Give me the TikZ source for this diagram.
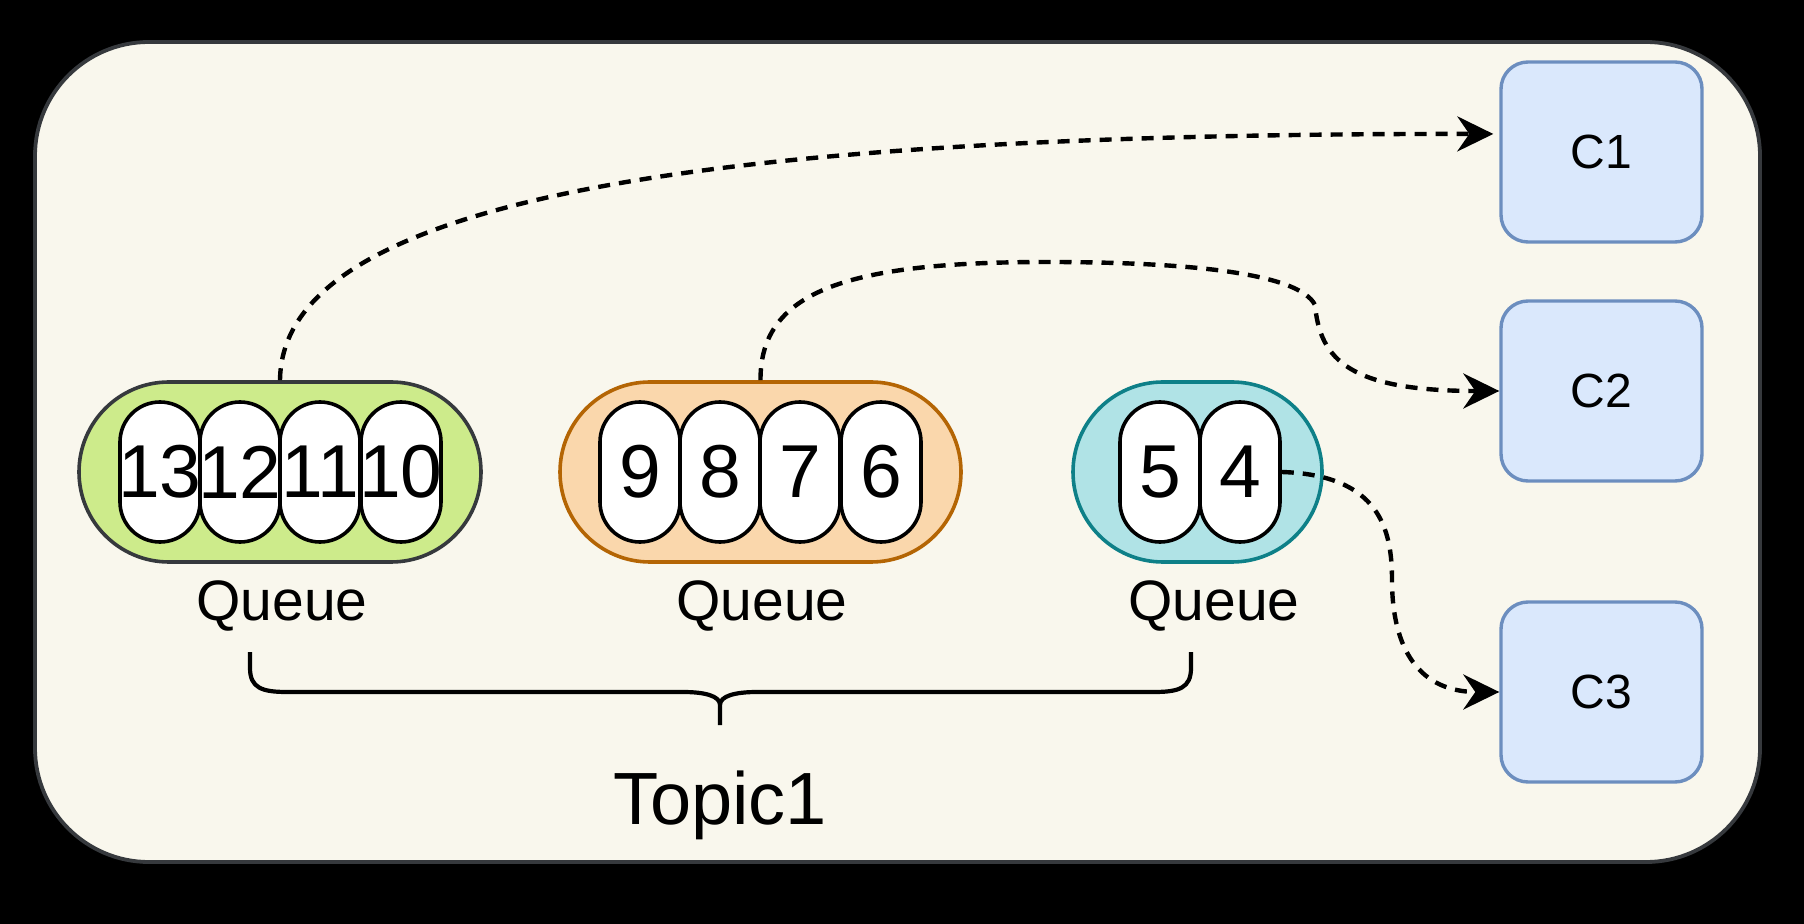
\documentclass[tikz,border=0pt]{standalone}
\usepackage{fontspec}
\setmainfont{Liberation Sans}
\usetikzlibrary{arrows.meta}
\definecolor{bgfill}{HTML}{F9F7ED}
\definecolor{darkstroke}{HTML}{36393D}
\definecolor{gfill}{HTML}{CDEB8B}
\definecolor{ofill}{HTML}{FAD7AC}
\definecolor{ostroke}{HTML}{B46504}
\definecolor{tfill}{HTML}{B0E3E6}
\definecolor{tstroke}{HTML}{0E8088}
\definecolor{cfill}{HTML}{DAE8FC}
\definecolor{cstroke}{HTML}{6C8EBF}
\begin{document}
\begin{tikzpicture}[x=0.5pt,y=-0.5pt,
  queuebox/.style={draw, line width=1.8pt, rounded corners=45pt, minimum height=90pt, inner sep=0pt},
  msg/.style={draw=black, fill=white, line width=1.8pt, rounded corners=20pt, minimum width=40pt, minimum height=70pt, inner sep=0pt, font=\fontsize{37.5}{40}\selectfont},
  qlabel/.style={anchor=base, inner sep=0pt, font=\fontsize{28.5}{30}\selectfont},
  consumer/.style={draw=cstroke, fill=cfill, line width=1.7pt, rounded corners=13.5pt, minimum width=100.5pt, minimum height=90pt, inner sep=0pt, font=\fontsize{24}{26}\selectfont},
  conn/.style={draw=black, line width=2.2pt, dash pattern=on 6pt off 4.5pt, -{Stealth[length=18pt,width=17.5pt,inset=6pt]}},
]
\useasboundingbox (0,0) rectangle (1804,924);
\fill[black] (0,0) rectangle (1804,924);
\path[draw=darkstroke, fill=bgfill, line width=1.9pt, rounded corners=57pt] (35,42) rectangle (1760,862);

% queues
\node[queuebox, draw=darkstroke, fill=gfill, minimum width=201pt] (gq) at (280,472) {};
\node[queuebox, draw=ostroke, fill=ofill, minimum width=200.5pt] (oq) at (760.5,472) {};
\node[queuebox, draw=tstroke, fill=tfill, minimum width=124.5pt] (tq) at (1197.5,472) {};

% messages
\node[msg] (p13) at (160,472) {\makebox[0pt]{13}};
\node[msg] (p12) at (240,472) {\makebox[0pt]{12}};
\node[msg] (p11) at (320,472) {\makebox[0pt]{11}};
\node[msg] (p10) at (401,472) {\makebox[0pt]{10}};
\node[msg] (p9) at (640,472) {\makebox[0pt]{9}};
\node[msg] (p8) at (720,472) {\makebox[0pt]{8}};
\node[msg] (p7) at (800,472) {\makebox[0pt]{7}};
\node[msg] (p6) at (881,472) {\makebox[0pt]{6}};
\node[msg] (p5) at (1160,472) {\makebox[0pt]{5}};
\node[msg] (p4) at (1240,472) {\makebox[0pt]{4}};

% labels
\node[qlabel] (gql) at (282,620) {Queue};
\node[qlabel] (oql) at (762,620) {Queue};
\node[qlabel] (tql) at (1214,620) {Queue};

% consumers
\node[consumer] (c1) at (1601.5,152) {C1};
\node[consumer] (c2) at (1601.5,391) {C2};
\node[consumer] (c3) at (1601.5,692) {C3};

% connectors
\draw[conn, shorten >=3pt] (gq.north) .. controls (282,200) and (700,133) .. (c1.170);
\draw[conn] (oq.north) .. controls (760,290) and (850,262) .. (1047,262)
  .. controls (1200,262) and (1300,275) .. (1315,305)
  .. controls (1320,360) and (1350,391) .. (c2.west);
\draw[conn] (p4.east) .. controls (1380,475) and (1392,530) .. (1392,580)
  .. controls (1392,650) and (1420,692) .. (c3.west);

% brace
\draw[line width=2.1pt] (250,652) -- (250,668) .. controls (250,688) and (262,692) .. (287,692)
  -- (683,692) .. controls (705,692) and (720,696) .. (720,705) -- (720,725)
  (720,705) .. controls (720,696) and (735,692) .. (757,692)
  -- (1154,692) .. controls (1179,692) and (1191,688) .. (1191,668) -- (1191,652);

\node[anchor=base, inner sep=0pt, font=\fontsize{37}{40}\selectfont] (topic) at (720,824) {Topic1};
\end{tikzpicture}
\end{document}
